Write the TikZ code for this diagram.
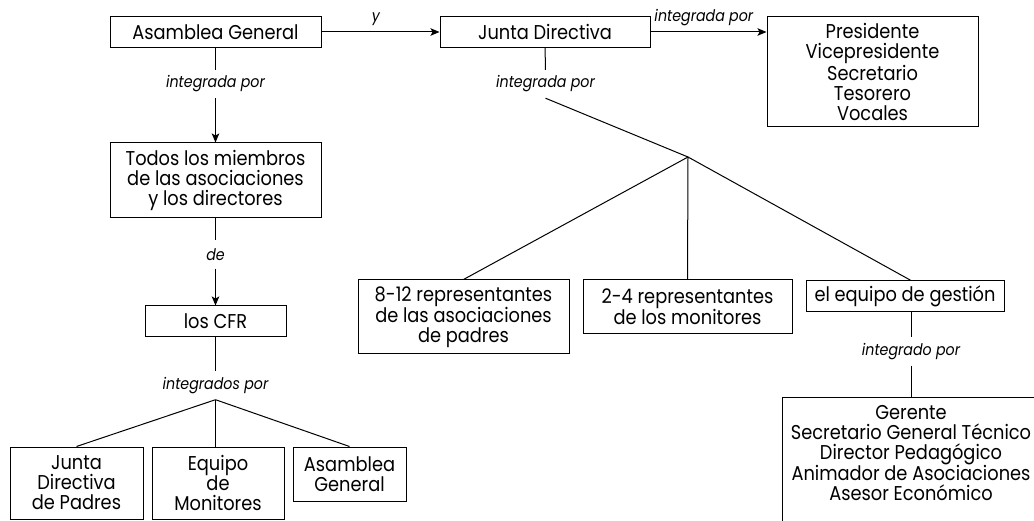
\documentclass[tikz,border=0pt]{standalone}
\usepackage{fontspec}
\setmainfont{Poppins}[FakeStretch=0.89]
\usetikzlibrary{arrows.meta}

\begin{document}
\begin{tikzpicture}[x=1pt, y=-1pt,
    box/.style={draw, line width=1pt, inner sep=0pt, align=center,
      font=\fontsize{20}{20}\selectfont},
    lbl/.style={inner sep=0pt, minimum height=28pt,
      font=\fontsize{16}{16}\selectfont\itshape},
    elbl/.style={inner sep=0pt, above=6pt, pos=.46,
      font=\fontsize{16}{16}\selectfont\itshape},
    link/.style={line width=1pt},
    arr/.style={link, -{Stealth[length=9pt, width=7.5pt, inset=2pt]}}]
    \clip (0,0) rectangle (1034,521);
    % left column
    \node[box, minimum width=211pt, minimum height=31pt] (ag) at (215.5,32) {Asamblea General};
    \node[lbl] (l1) at (215.5,84) {integrada por};
    \node[box, minimum width=211pt, minimum height=75pt] (todos) at (215.5,180.5)
        {Todos los miembros\\de las asociaciones\\y los directores};
    \node[lbl] (l2) at (215.5,254.5) {de};
    \node[box, minimum width=141pt, minimum height=31pt] (cfr) at (215.5,321.5) {los CFR};
    \node[lbl] (l3) at (215.5,385.5) {integrados por};
    \node[box, minimum width=133pt, minimum height=72pt] (jdp) at (76.5,483) {Junta\\Directiva\\de Padres};
    \node[box, minimum width=132pt, minimum height=72pt] (eqm) at (218,483) {Equipo\\de\\Monitores};
    \node[box, minimum width=113pt, minimum height=54pt] (asg) at (349.5,474) {Asamblea\\General};
    % right part
    \node[box, minimum width=210pt, minimum height=31pt] (jd) at (545,32) {Junta Directiva};
    \node[box, minimum width=211pt, minimum height=110pt] (pres) at (872.5,72)
        {Presidente\\Vicepresidente\\Secretario\\Tesorero\\Vocales};
    \node[lbl] (l4) at (545.5,84) {integrada por};
    \coordinate (fork) at (688,157);
    \node[box, minimum width=211pt, minimum height=74pt] (rep8) at (463.5,317)
        {8-12 representantes\\de las asociaciones\\de padres};
    \node[box, minimum width=209pt, minimum height=54pt] (rep2) at (687.5,307)
        {2-4 representantes\\de los monitores};
    \node[box, minimum width=198pt, minimum height=31pt] (equipo) at (905,296.5) {el equipo de gestión};
    \node[lbl] (l5) at (911,351.5) {integrado por};
    \node[box, anchor=north, minimum width=258pt, minimum height=135pt,
        label={[anchor=north, align=center, inner sep=0pt, yshift=-8pt,
        font=\fontsize{20}{20}\selectfont]north:{Gerente\\Secretario General Técnico\\Director Pedagógico\\Animador de Asociaciones\\Asesor Económico}}]
        (ger) at (911,397) {};

    \draw[arr] (ag.east) -- node[elbl] (ly) {y} (ag.east -| jd.west);
    \draw[arr] (jd.east) -- node[elbl] (lp) {integrada por} (jd.east -| pres.west);
    \draw[link] (ag) -- (l1);
    \draw[arr] (l1) -- (todos);
    \draw[link] (todos) -- (l2);
    \draw[arr] (l2) -- (cfr);
    \draw[link] (cfr) -- (l3);
    \draw[link] (l3.south) -- (jdp.north);
    \draw[link] (l3.south) -- (eqm.north -| l3.south);
    \draw[link] (l3.south) -- (asg.north);
    \draw[link] (jd) -- (l4);
    \draw[link] (l4.south) -- (fork);
    \draw[link] (fork) -- (rep8.north);
    \draw[link] (fork) -- (rep2.north);
    \draw[link] (fork) -- (l5 |- equipo.north);
    \draw[link] (l5 |- equipo.south) -- (l5);
    \draw[link] (l5) -- (ger);
\end{tikzpicture}
\end{document}
